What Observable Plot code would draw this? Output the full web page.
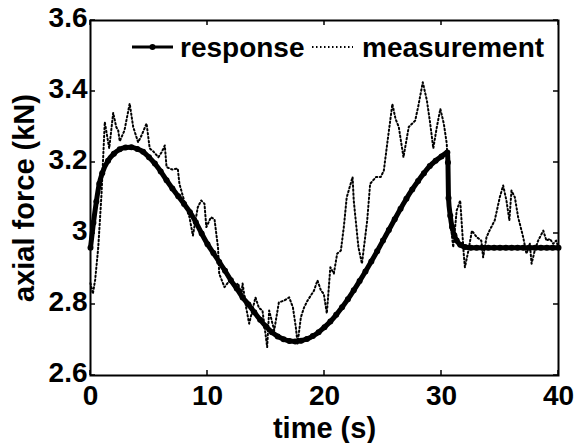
<!DOCTYPE html>
<html>
<head>
<meta charset="utf-8">
<script src="https://cdn.jsdelivr.net/npm/d3@7"></script>
<script src="https://cdn.jsdelivr.net/npm/@observablehq/plot@0.6"></script>
<style>
  html, body { margin: 0; padding: 0; background: #fff; }
</style>
</head>
<body>
<div id="chart"></div>
<script>
const xTicks = [0, 10, 20, 30, 40];
const yTicks = [2.6, 2.8, 3.0, 3.2, 3.4, 3.6];
const xLabel = "time (s)";
const yLabel = "axial force (kN)";
const seriesNames = ["response", "measurement"];

const respTime = [0,0.25,0.5,0.75,1,1.5,2,2.5,3,3.5,4,4.5,5,5.5,6,6.5,7,7.5,8,8.5,9,9.5,10,10.5,11,11.5,12,12.5,13,13.5,14,14.5,15,15.5,16,16.5,17,17.5,18,18.5,19,19.5,20,20.5,21,21.5,22,22.5,23,23.5,24,24.5,25,25.5,26,26.5,27,27.5,28,28.5,29,29.5,30,30.5,30.55,30.6,30.75,30.9,31.1,31.3,31.6,32,32.5,33,33.5,34,34.5,35,35.5,36,36.5,37,37.5,38,38.5,39,39.5,40];
const respForce = [2.96,3.03,3.09,3.14,3.17,3.205,3.225,3.237,3.242,3.243,3.238,3.23,3.215,3.197,3.175,3.15,3.127,3.105,3.083,3.06,3.032,3.0,2.97,2.945,2.92,2.895,2.868,2.845,2.82,2.8,2.778,2.757,2.738,2.722,2.71,2.702,2.697,2.696,2.698,2.703,2.711,2.722,2.736,2.752,2.771,2.792,2.815,2.84,2.866,2.893,2.921,2.95,2.98,3.01,3.04,3.07,3.098,3.124,3.148,3.17,3.19,3.205,3.217,3.228,3.2,3.1,3.05,3.018,2.995,2.98,2.968,2.962,2.96,2.96,2.96,2.96,2.96,2.96,2.96,2.96,2.96,2.96,2.96,2.96,2.96,2.96,2.96,2.96];

const measTime = [0,0.2,0.4,0.66,0.94,1.22,1.6,1.94,2.2,2.37,2.5,2.9,3.35,3.65,4.07,4.36,4.79,5.06,5.4,5.8,6.1,6.35,6.5,7.0,7.46,7.6,8.0,8.46,8.75,9.17,9.46,9.74,9.9,10.3,10.6,10.9,11.0,11.45,11.9,12.3,12.6,12.9,13.0,13.3,13.56,14.1,14.4,14.7,15.1,15.27,15.7,16.1,16.55,16.98,17.3,17.55,17.7,17.98,18.26,18.55,19.1,19.4,19.7,19.94,20.2,20.5,20.8,21.08,21.4,21.65,21.9,22.4,22.5,22.9,23.2,23.65,23.9,24.4,24.8,25.07,25.36,25.6,25.8,26.07,26.35,26.75,27.2,27.75,28.0,28.4,28.75,29.0,29.3,29.6,29.9,30.2,30.45,30.6,30.75,31.0,31.3,31.6,31.9,32.0,32.3,32.6,33.0,33.4,33.56,33.85,34.1,34.55,34.98,35.27,35.55,35.8,35.98,36.27,36.55,36.98,37.26,37.55,37.7,37.97,38.26,38.7,38.97,39.26,39.55,39.8,40];
const measForce = [2.86,2.83,2.87,2.96,3.11,3.314,3.24,3.34,3.30,3.29,3.26,3.29,3.366,3.30,3.257,3.276,3.31,3.24,3.23,3.215,3.23,3.248,3.187,3.18,3.183,3.14,3.093,3.046,2.994,3.074,3.093,3.084,3.018,3.046,3.04,2.96,2.887,2.849,2.868,2.849,2.86,2.83,2.859,2.792,2.746,2.82,2.79,2.783,2.68,2.783,2.727,2.806,2.811,2.82,2.792,2.736,2.69,2.764,2.792,2.811,2.839,2.868,2.839,2.83,2.775,2.905,2.887,2.943,2.952,3.018,3.102,3.159,3.093,2.961,2.915,3.037,3.14,3.159,3.159,3.177,3.253,3.314,3.365,3.323,3.30,3.215,3.30,3.318,3.356,3.426,3.375,3.318,3.24,3.30,3.351,3.309,3.253,3.13,3.037,2.961,3.065,3.093,2.943,2.905,2.952,3.008,2.99,2.98,2.933,2.99,3.008,3.037,3.102,3.135,3.093,3.037,3.121,3.102,3.046,2.99,2.943,2.971,2.915,2.952,2.98,3.008,2.98,2.985,2.971,2.98,2.96];

const response = respTime.map((t, i) => ({t, f: respForce[i]}));
const measurement = measTime.map((t, i) => ({t, f: measForce[i]}));

const fmt = d => String(+d.toFixed(1));
const FONT = "'Liberation Sans', Arial, sans-serif";

const chart = Plot.plot({
  width: 575,
  height: 443,
  marginLeft: 90,
  marginRight: 17,
  marginTop: 20,
  marginBottom: 68,
  style: {fontFamily: FONT, fontSize: "28px", fontWeight: "bold", background: "#fff", color: "#000", overflow: "visible"},
  x: {domain: [0, 40]},
  y: {domain: [2.6, 3.6]},
  marks: [
    Plot.axisX(xTicks, {anchor: "bottom", tickSize: 0, tickPadding: 10, tickFormat: fmt, label: null}),
    Plot.axisY(yTicks, {anchor: "left", tickSize: 0, tickPadding: 3, dy: -2, tickFormat: fmt, label: null}),
    Plot.line(measurement, {x: "t", y: "f", stroke: "#000", strokeWidth: 2, strokeDasharray: "1.5,2.5"}),
    Plot.line(response, {x: "t", y: "f", stroke: "#000", strokeWidth: 5, curve: "monotone-x"}),
    Plot.dot(response, {x: "t", y: "f", r: 3, fill: "#000"}),
    Plot.frame({stroke: "#000", strokeWidth: 2}),
    Plot.text([xLabel], {frameAnchor: "bottom", dy: 62, lineAnchor: "bottom", textAnchor: "middle", fill: "#000", fontSize: 29}),
    Plot.text([yLabel], {frameAnchor: "left", dx: -66, rotate: -90, lineAnchor: "middle", textAnchor: "middle", fill: "#000", fontSize: 29})
  ]
});

document.getElementById("chart").appendChild(chart);

const svg = d3.select(chart);
const xs = chart.scale("x"), ys = chart.scale("y");
const x0 = xs.apply(0), x1 = xs.apply(40), yb = ys.apply(2.6), yt = ys.apply(3.6);
const tk = svg.append("g").attr("stroke", "#000").attr("stroke-width", 1.5);
for (const t of xTicks) {
  const px = xs.apply(t);
  tk.append("line").attr("x1", px).attr("x2", px).attr("y1", yb).attr("y2", yb - 5);
  tk.append("line").attr("x1", px).attr("x2", px).attr("y1", yt).attr("y2", yt + 5);
}
for (const v of yTicks) {
  const py = ys.apply(v);
  tk.append("line").attr("x1", x0).attr("x2", x0 + 5).attr("y1", py).attr("y2", py);
  tk.append("line").attr("x1", x1).attr("x2", x1 - 5).attr("y1", py).attr("y2", py);
}

// Legend (inside the plot box, top)
const lg = svg.append("g").attr("font-family", FONT).attr("font-size", 28).attr("font-weight", "bold").attr("text-anchor", "start").attr("fill", "#000");
lg.append("line").attr("x1", 132).attr("x2", 173).attr("y1", 47).attr("y2", 47).attr("stroke", "#000").attr("stroke-width", 3);
lg.append("circle").attr("cx", 152.5).attr("cy", 47).attr("r", 3).attr("fill", "#000");
lg.append("text").attr("x", 180).attr("y", 57).text(seriesNames[0]);
lg.append("line").attr("x1", 312).attr("x2", 353).attr("y1", 47).attr("y2", 47).attr("stroke", "#000").attr("stroke-width", 2).attr("stroke-dasharray", "1.5,2.5");
lg.append("text").attr("x", 362).attr("y", 57).text(seriesNames[1]);
</script>
</body>
</html>
